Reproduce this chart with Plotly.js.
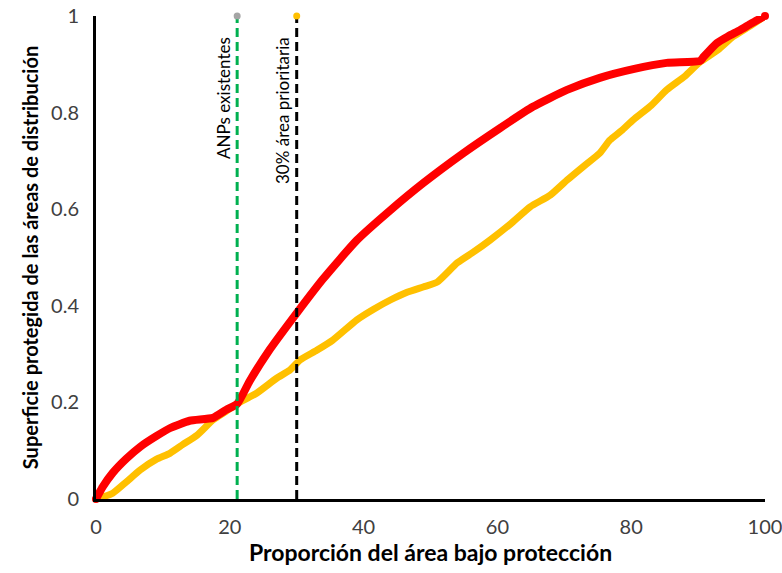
<!DOCTYPE html>
<html>
<head>
<meta charset="utf-8">
<script src="https://cdn.plot.ly/plotly-3.0.1.min.js"></script>
<style>html,body{margin:0;padding:0;background:#fff;}#chart{width:782px;height:573px;}</style>
</head>
<body>
<div id="chart"></div>
<script>
// Red curve (optimal prioritisation)
const redX = [0, 1, 2.5, 4.5, 6.6, 9, 11.1, 14, 17.5, 19.5, 21.1, 23, 26, 30, 33.9, 39, 44, 48.9, 54.9, 60.4, 65.3, 70.4, 75.3, 80.3, 85.3, 90.3, 90.8, 92.8, 94.5, 96.3, 98, 100];
const redY = [0, 0.025, 0.054, 0.083, 0.108, 0.13, 0.147, 0.162, 0.168, 0.185, 0.197, 0.245, 0.31, 0.385, 0.455, 0.536, 0.598, 0.654, 0.716, 0.768, 0.812, 0.847, 0.872, 0.89, 0.903, 0.907, 0.915, 0.944, 0.958, 0.971, 0.985, 1];
// Yellow curve (existing)
const yelX = [0, 2.5, 4.5, 6.6, 9, 11.1, 13, 15.1, 17.5, 19.5, 21.1, 24, 27, 29, 30.5, 33, 35.4, 39, 41.5, 44, 46.5, 48.9, 51, 54, 56.5, 58.9, 62, 64.9, 67.9, 70.4, 73, 75.3, 76.8, 78.5, 80.3, 83, 85.3, 88, 90.3, 93, 95.2, 97.5, 100];
const yelY = [0, 0.012, 0.035, 0.06, 0.082, 0.095, 0.113, 0.132, 0.164, 0.182, 0.197, 0.219, 0.25, 0.267, 0.288, 0.308, 0.329, 0.371, 0.393, 0.412, 0.428, 0.439, 0.449, 0.489, 0.512, 0.536, 0.57, 0.605, 0.629, 0.66, 0.69, 0.716, 0.743, 0.762, 0.785, 0.815, 0.847, 0.875, 0.905, 0.93, 0.957, 0.977, 1];
// Reference lines
const anpX = [21.1, 21.1];
const prioX = [30, 30];
const refY = [0, 1];
const xTicks = [0, 20, 40, 60, 80, 100];
const yTicks = [0, 0.2, 0.4, 0.6, 0.8, 1];
const yTickText = ['0', '0.2', '0.4', '0.6', '0.8', '1'];
const labels = ['ANPs existentes', '30% área prioritaria'];

const FONT = 'Lato, "Open Sans", sans-serif';

const traces = [
  {x: yelX, y: yelY, mode: 'lines', line: {color: '#FFC000', width: 7, shape: 'spline', smoothing: 0.5},
   cliponaxis: false, showlegend: false, hoverinfo: 'skip'},
  {x: [yelX[0]], y: [yelY[0]], mode: 'markers', marker: {size: 7, color: '#FFC000'},
   cliponaxis: false, showlegend: false, hoverinfo: 'skip'},
  {x: redX, y: redY, mode: 'lines', line: {color: '#FF0000', width: 8, shape: 'spline', smoothing: 0.5},
   cliponaxis: false, showlegend: false, hoverinfo: 'skip'},
  {x: [redX[0], redX[redX.length - 1]], y: [redY[0], redY[redY.length - 1]], mode: 'markers',
   marker: {size: 8, color: '#FF0000'}, cliponaxis: false, showlegend: false, hoverinfo: 'skip'},
  {x: anpX, y: refY, mode: 'lines', line: {color: '#00B050', width: 3, dash: '9px,5px'},
   cliponaxis: false, showlegend: false, hoverinfo: 'skip'},
  {x: [anpX[1]], y: [refY[1]], mode: 'markers', marker: {size: 7, color: '#A5A5A5'},
   cliponaxis: false, showlegend: false, hoverinfo: 'skip'},
  {x: prioX, y: refY, mode: 'lines', line: {color: '#000000', width: 3, dash: '9px,5px'},
   cliponaxis: false, showlegend: false, hoverinfo: 'skip'},
  {x: [prioX[1]], y: [refY[1]], mode: 'markers', marker: {size: 7, color: '#FFC000'},
   cliponaxis: false, showlegend: false, hoverinfo: 'skip'}
];

const layout = {
  width: 782, height: 573,
  margin: {l: 96, r: 17, t: 16, b: 74},
  paper_bgcolor: '#fff', plot_bgcolor: '#fff',
  font: {family: FONT, color: '#404040', size: 20},
  showlegend: false,
  xaxis: {
    range: [0, 100], tickvals: xTicks, ticktext: xTicks.map(String),
    showgrid: false, zeroline: false, showline: true, linecolor: '#000', linewidth: 3,
    ticks: '', tickfont: {size: 20, color: '#404040', family: FONT}, ticklabelstandoff: 8,
    ticklabeloverflow: 'allow',
    title: {text: 'Proporción del área bajo protección', font: {size: 23, color: '#000', family: FONT, weight: 'bold'}, standoff: 2}
  },
  yaxis: {
    range: [0, 1], tickvals: yTicks, ticktext: yTickText,
    showgrid: false, zeroline: false, showline: true, linecolor: '#000', linewidth: 3,
    ticks: '', tickfont: {size: 20, color: '#404040', family: FONT}, ticklabelstandoff: 10,
    ticklabeloverflow: 'allow',
    title: {text: 'Superficie protegida de las áreas de distribución', font: {size: 20, color: '#000', family: FONT, weight: 'bold'}, standoff: 8}
  },
  annotations: [
    {x: anpX[0], y: 0.96, xref: 'x', yref: 'paper', text: labels[0], textangle: -90, showarrow: false,
     xanchor: 'right', yanchor: 'top', xshift: -1, font: {size: 17, color: '#000', family: FONT}},
    {x: prioX[0], y: 0.96, xref: 'x', yref: 'paper', text: labels[1], textangle: -90, showarrow: false,
     xanchor: 'right', yanchor: 'top', xshift: -1, font: {size: 17, color: '#000', family: FONT}}
  ]
};

Plotly.newPlot('chart', traces, layout, {displayModeBar: false, staticPlot: true});
</script>
</body>
</html>
